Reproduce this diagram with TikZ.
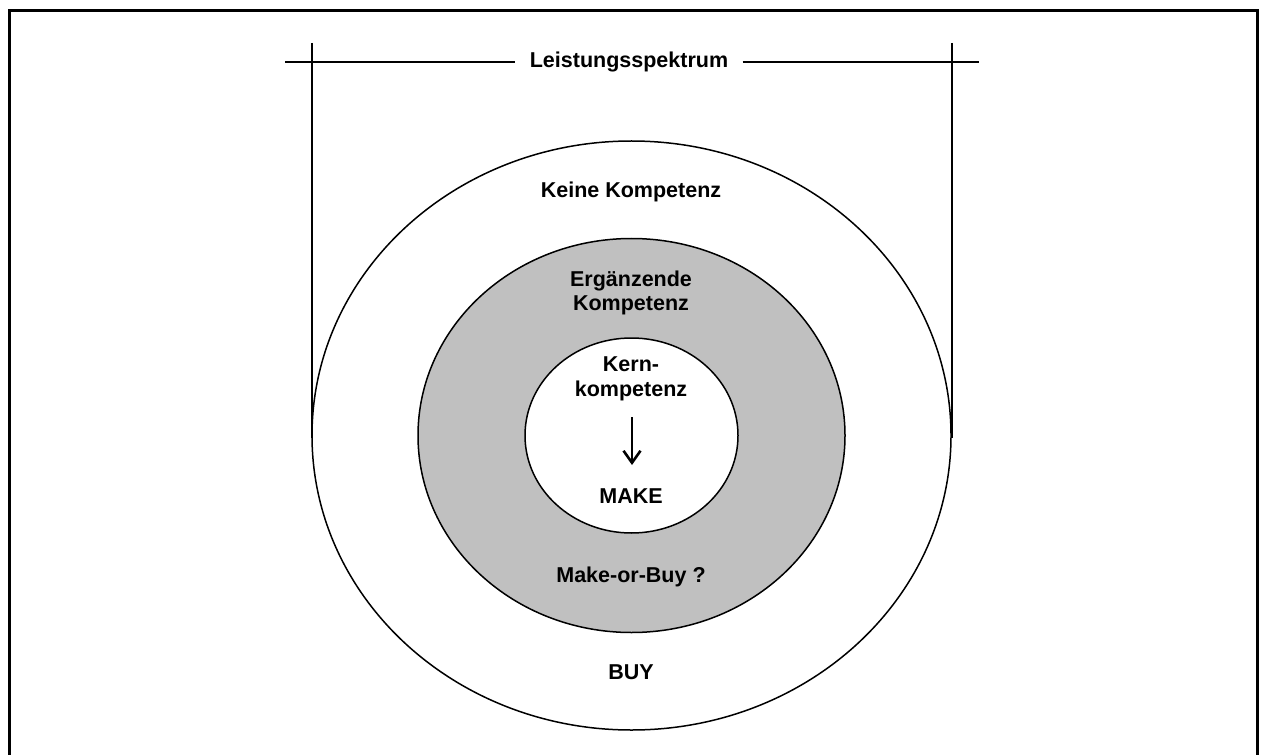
\documentclass[tikz,border=0pt]{standalone}
\usepackage{fontspec}
\setmainfont{Liberation Sans}
\usetikzlibrary{arrows.meta}
\definecolor{ringgray}{HTML}{C0C0C0}
\begin{document}
\begin{tikzpicture}[x=0.5pt,y=-0.5pt,
  lbl/.style={font=\fontsize{10.75}{12.4}\selectfont\bfseries, align=center, inner sep=0pt},
  ring/.style={draw=black, line width=0.75pt},
  guide/.style={line width=1pt}]
\useasboundingbox (0,0) rectangle (1262,754);
\fill[white] (0,0) rectangle (1262,754);
% open frame
\draw[line width=1.5pt] (9,780) -- (9,11) -- (1257,11) -- (1257,780);

% competence rings
\draw[ring, fill=white] (631.5,435.5) ellipse [x radius=159.75pt, y radius=147.25pt];
\draw[ring, fill=ringgray] (631.5,435.5) ellipse [x radius=106.75pt, y radius=98.5pt];
\draw[ring, fill=white] (631.5,435.5) ellipse [x radius=53.25pt, y radius=48.75pt];

% span of the service range
\coordinate (vlt) at (312,43);
\coordinate (vlb) at (312,438);
\coordinate (vrt) at (951.5,43);
\coordinate (vrb) at (951.5,438);
\coordinate (hl) at (285,62);
\coordinate (hr) at (979,62);
\draw[guide] (vlt) -- (vlb);
\draw[guide] (vrt) -- (vrb);
\node[lbl, inner xsep=7pt] (title) at (629,62) {Leistungsspektrum};
\draw[guide] (hl) -- (title.west);
\draw[guide] (title.east) -- (hr);

% labels
\node[lbl] (keine) at (631,192) {Keine Kompetenz};
\node[lbl] (erg) at (631,293) {Ergänzende\\Kompetenz};
\node[lbl] (kern) at (631,379) {Kern-\\kompetenz};
\node[lbl] (make) at (631,496) {MAKE};
\node[lbl] (mob) at (631,577) {Make-or-Buy ?};
\node[lbl] (buy) at (631,672) {BUY};

\coordinate (arrS) at (632,417);
\coordinate (arrE) at (632,465);
\draw[line width=1.3pt, -{Straight Barb[length=6pt,width=8.5pt]}] (arrS) -- (arrE);
\end{tikzpicture}
\end{document}
